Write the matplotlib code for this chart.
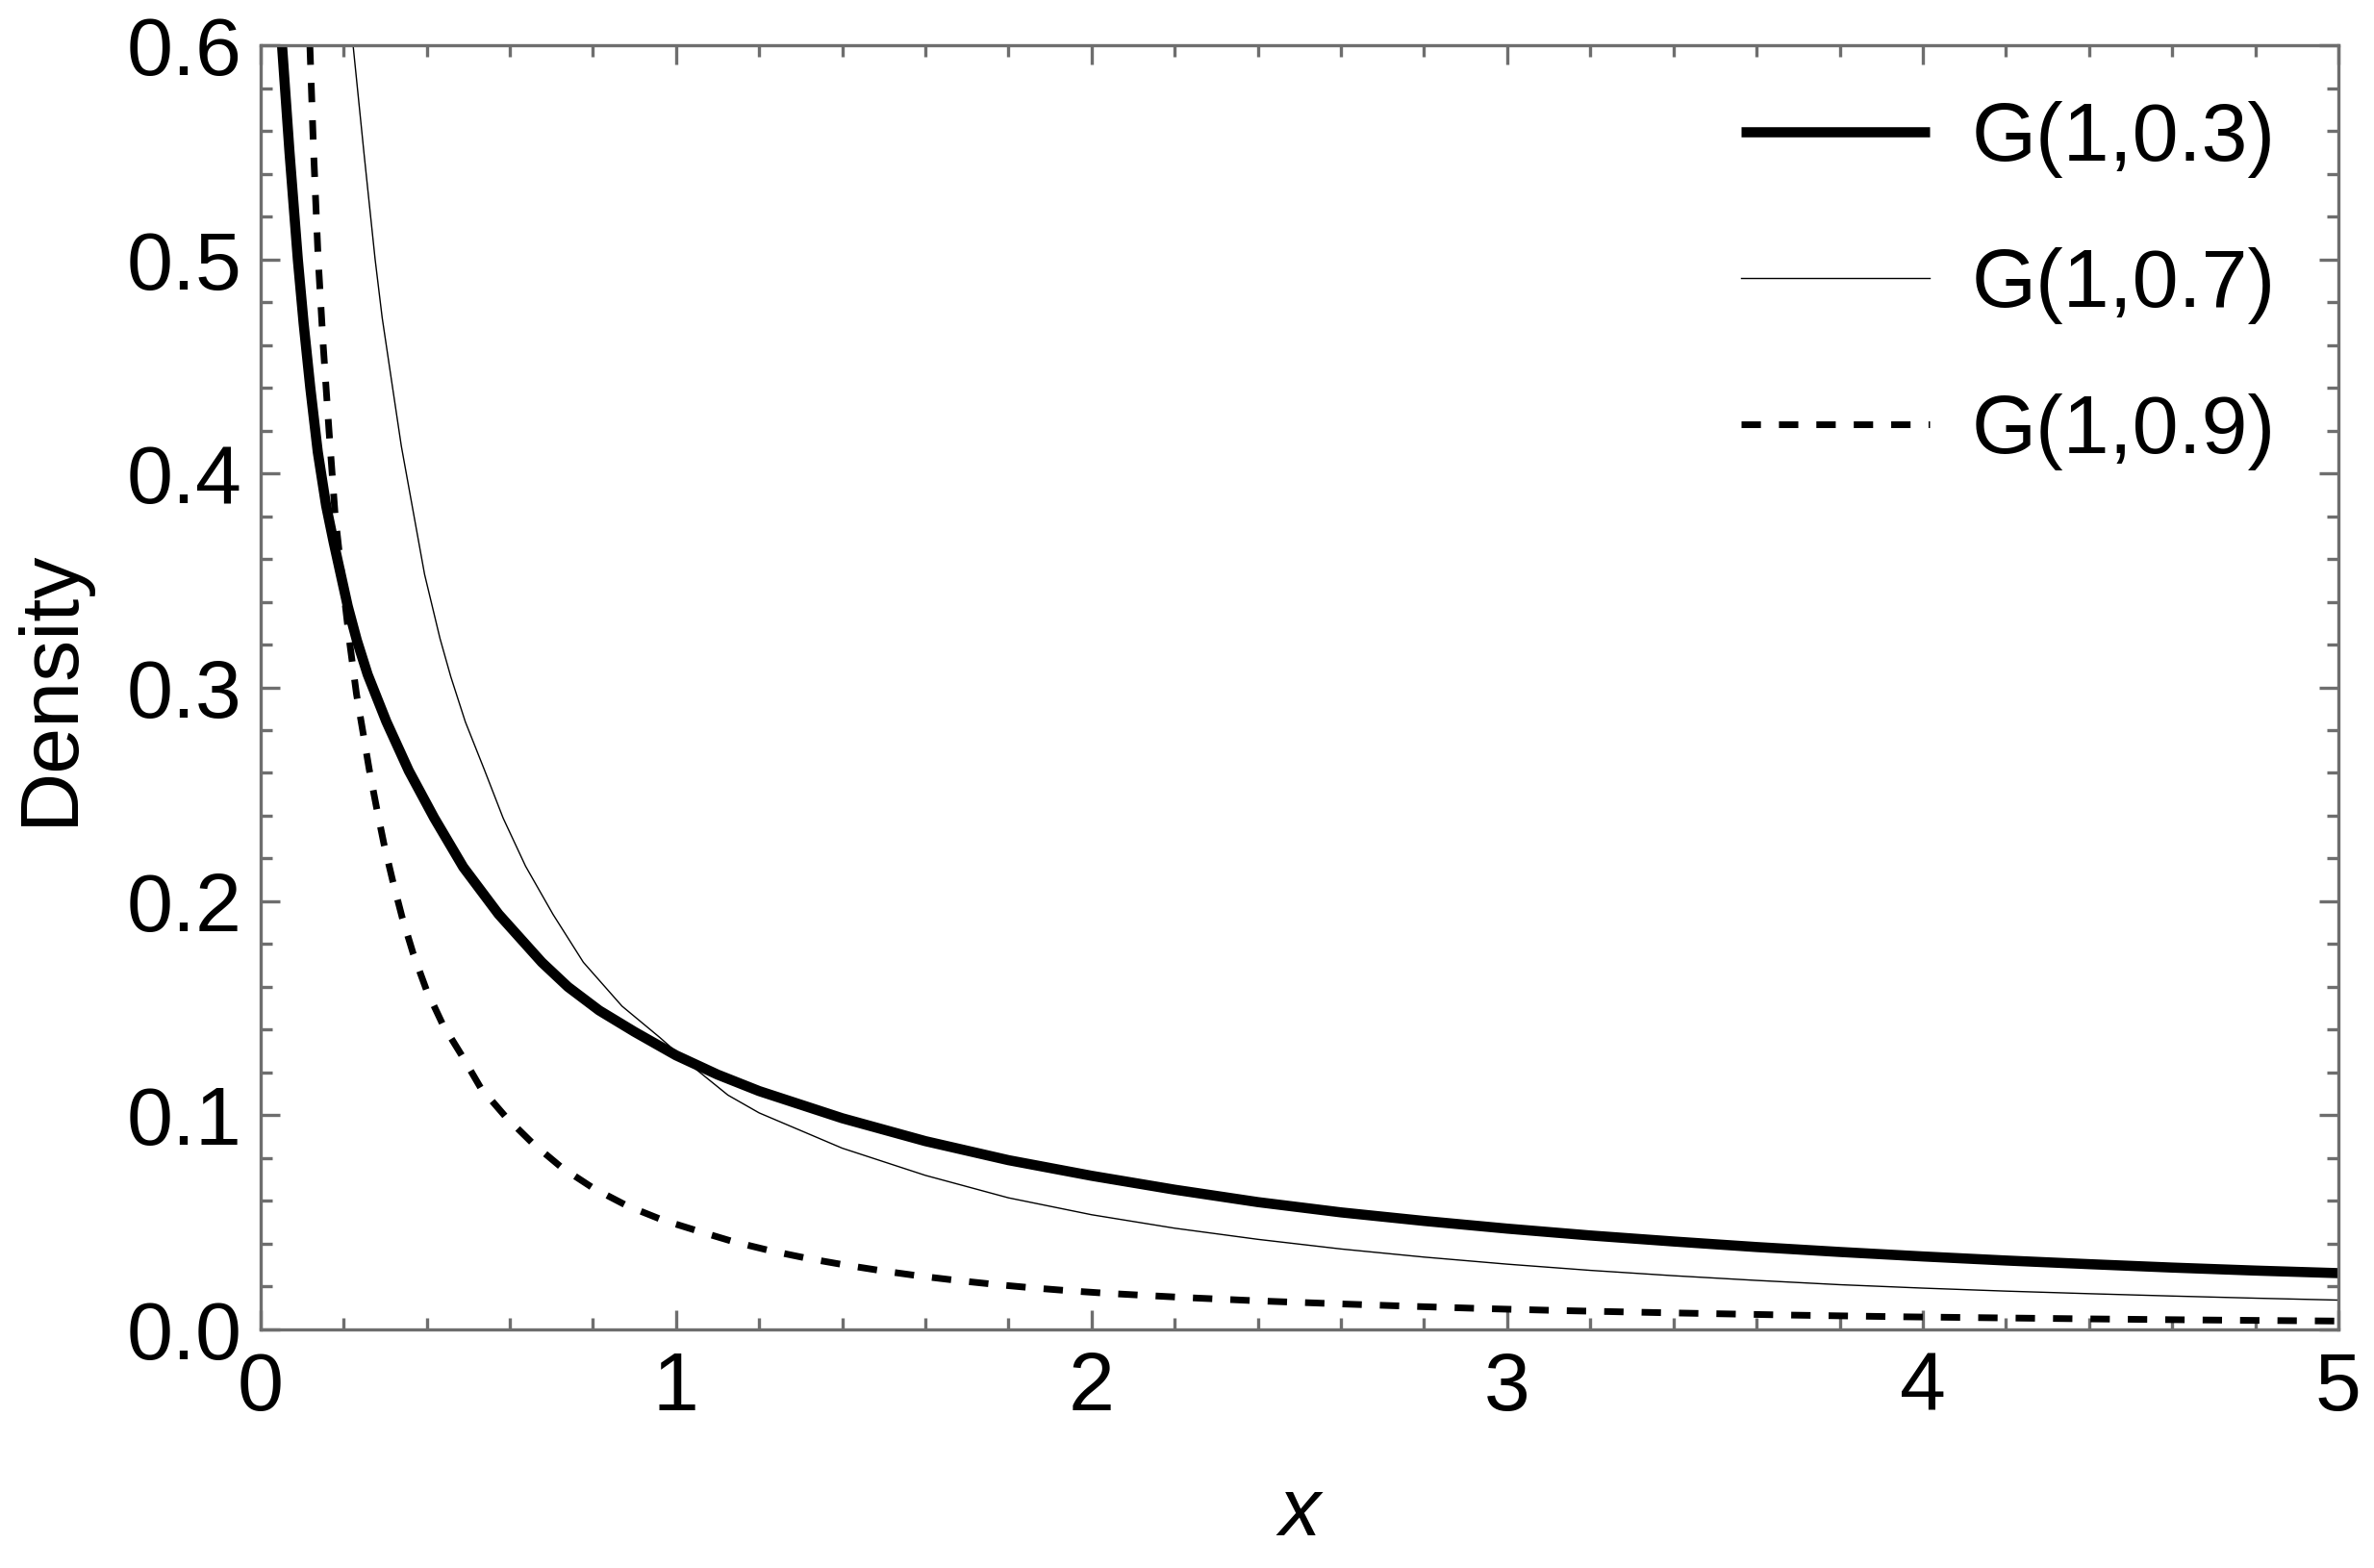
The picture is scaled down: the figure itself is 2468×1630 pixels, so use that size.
import matplotlib
matplotlib.use("Agg")
import matplotlib.pyplot as plt
from matplotlib.ticker import MultipleLocator

plt.rcParams['font.family'] = ['Liberation Sans', 'DejaVu Sans']

# values
x_03 = [0.052, 0.070, 0.090, 0.104, 0.120, 0.138, 0.158, 0.176, 0.210, 0.232,
        0.258, 0.303, 0.357, 0.418, 0.488, 0.573, 0.677, 0.740, 0.815, 0.900,
        1.0, 1.1, 1.2, 1.4, 1.6, 1.8, 2.0, 2.2, 2.4, 2.6,
        2.8, 3.0, 3.2, 3.4, 3.6, 3.8, 4.0, 4.2, 4.4, 4.6,
        4.8, 5.0]
y_03 = [0.600, 0.550, 0.500, 0.470, 0.440, 0.410, 0.385, 0.368, 0.338, 0.322,
        0.306, 0.284, 0.261, 0.239, 0.216, 0.194, 0.1715, 0.160, 0.149, 0.139,
        0.128, 0.119, 0.1113, 0.0986, 0.0879, 0.0790, 0.0717, 0.0652, 0.0594, 0.0546,
        0.0506, 0.0470, 0.0438, 0.0410, 0.0384, 0.0361, 0.0340, 0.0321, 0.0304, 0.0288,
        0.0274, 0.0262]

x_07 = [0.223, 0.249, 0.276, 0.293, 0.316, 0.339, 0.367, 0.395, 0.432, 0.458,
        0.493, 0.539, 0.584, 0.638, 0.704, 0.777, 0.870, 0.960, 1.048, 1.125,
        1.2, 1.4, 1.6, 1.8, 2.0, 2.2, 2.4, 2.6, 2.8, 3.0,
        3.2, 3.4, 3.6, 3.8, 4.0, 4.2, 4.4, 4.6, 4.8, 5.0]
y_07 = [0.600, 0.550, 0.500, 0.4727, 0.4427, 0.4128, 0.3828, 0.3528, 0.3229, 0.3050,
        0.2839, 0.2614, 0.2389, 0.2164, 0.1939, 0.1715, 0.151, 0.1365, 0.1215, 0.1094,
        0.1011, 0.0846, 0.0719, 0.0614, 0.0535, 0.0472, 0.0420, 0.0375, 0.0337, 0.0304,
        0.0275, 0.0250, 0.0228, 0.0208, 0.0192, 0.0178, 0.0166, 0.0155, 0.0145, 0.0136]

x_09 = [0.119, 0.128, 0.139, 0.151, 0.165, 0.180, 0.196, 0.214, 0.231, 0.247,
        0.262, 0.279, 0.297, 0.318, 0.341, 0.368, 0.399, 0.439, 0.484, 0.530,
        0.590, 0.655, 0.724, 0.801, 0.882, 0.968, 1.056, 1.14, 1.229, 1.319,
        1.41, 1.499, 1.589, 1.68, 1.769, 1.859, 1.95, 2.043, 2.225, 2.406,
        2.587, 2.768, 2.949, 3.13, 3.4, 3.68, 3.95, 4.408, 4.678, 5.0]
y_09 = [0.600, 0.550, 0.500, 0.460, 0.420, 0.380, 0.352, 0.322, 0.297, 0.2787,
        0.2614, 0.2442, 0.2270, 0.2098, 0.1925, 0.1753, 0.1588, 0.1423, 0.1281, 0.1128,
        0.0993, 0.0869, 0.0757, 0.0659, 0.0577, 0.0510, 0.0457, 0.0408, 0.0366, 0.0330,
        0.0299, 0.0272, 0.0248, 0.0227, 0.0209, 0.0193, 0.0179, 0.0167, 0.0148, 0.0132,
        0.0119, 0.0107, 0.0096, 0.0087, 0.0076, 0.0066, 0.0058, 0.0048, 0.0043, 0.0038]

labels = ['G(1,0.3)', 'G(1,0.7)', 'G(1,0.9)']

fs = 31
gray = '#6e6e6e'

fig = plt.figure(figsize=(12.34, 8.15), dpi=200)
ax = fig.add_axes([0.1097, 0.1523, 0.8753, 0.8187])

ax.plot(x_03, y_03, color='black', lw=3.8, solid_capstyle='butt',
        solid_joinstyle='round', label=labels[0])
ax.plot(x_07, y_07, color='black', lw=0.5, label=labels[1])
ax.plot(x_09, y_09, color='black', lw=2.5, dashes=(2.9, 2.7),
        dash_capstyle='butt', label=labels[2])

ax.set_xlim(0, 5)
ax.set_ylim(0, 0.6)
ax.xaxis.set_major_locator(MultipleLocator(1))
ax.xaxis.set_minor_locator(MultipleLocator(0.2))
ax.yaxis.set_major_locator(MultipleLocator(0.1))
ax.yaxis.set_minor_locator(MultipleLocator(0.02))
ax.set_yticklabels(['%.1f' % v for v in ax.get_yticks()])

ax.tick_params(which='both', direction='in', top=True, right=True,
               color=gray, width=1.2, labelsize=fs, labelcolor='black')
ax.tick_params(which='major', length=7.2)
ax.tick_params(which='minor', length=4.3)
ax.tick_params(axis='x', pad=8)
ax.tick_params(axis='y', pad=7)
for s in ax.spines.values():
    s.set_color(gray)
    s.set_linewidth(1.2)

ax.set_xlabel('x', fontsize=fs, style='italic', labelpad=18)
ax.set_ylabel('Density', fontsize=fs, labelpad=14)

ax.legend(loc='upper left', bbox_to_anchor=(0.7125, 0.957), frameon=False,
          fontsize=fs, handlelength=2.28, handletextpad=0.5,
          labelspacing=0.84, borderpad=0, borderaxespad=0)

fig.savefig('out.png', dpi=200, facecolor='white')
